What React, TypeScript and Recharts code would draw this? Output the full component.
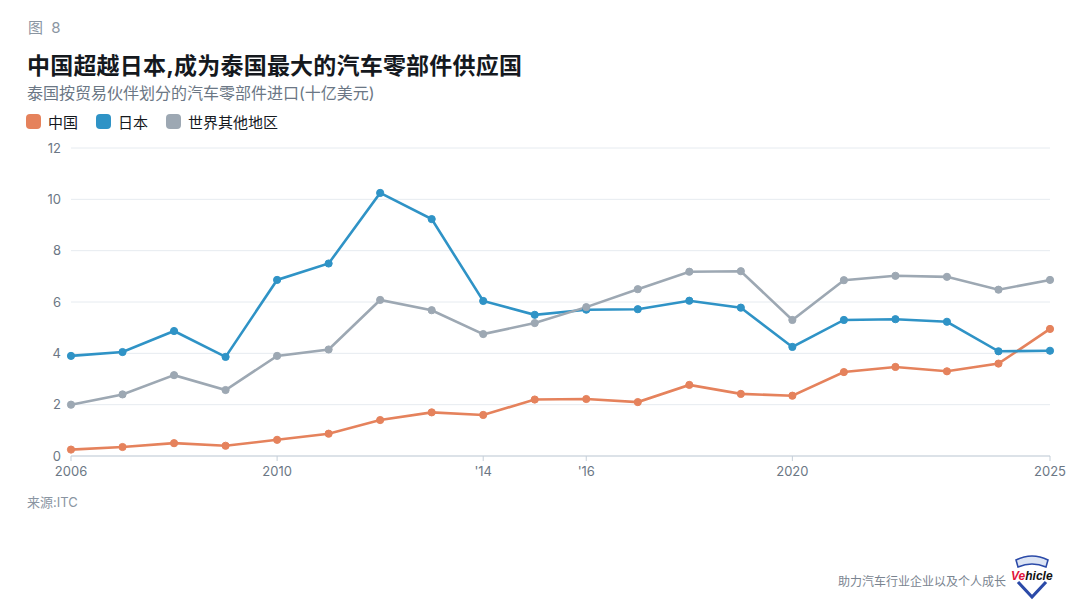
import * as React from "react";
import { CartesianGrid, Line, LineChart, XAxis, YAxis } from "recharts";

const years = [
  2006, 2007, 2008, 2009, 2010, 2011, 2012, 2013, 2014, 2015,
  2016, 2017, 2018, 2019, 2020, 2021, 2022, 2023, 2024, 2025,
];
const china = [
  0.25, 0.35, 0.5, 0.4, 0.63, 0.87, 1.4, 1.7, 1.6, 2.2,
  2.22, 2.1, 2.77, 2.42, 2.35, 3.27, 3.47, 3.3, 3.6, 4.95,
];
const japan = [
  3.9, 4.05, 4.87, 3.86, 6.86, 7.5, 10.25, 9.23, 6.04, 5.5,
  5.7, 5.72, 6.05, 5.78, 4.25, 5.3, 5.33, 5.23, 4.08, 4.1,
];
const restOfWorld = [
  2.0, 2.4, 3.15, 2.57, 3.9, 4.15, 6.08, 5.68, 4.75, 5.18,
  5.8, 6.5, 7.18, 7.2, 5.3, 6.85, 7.02, 6.98, 6.48, 6.86,
];
const xTicks = [2006, 2010, 2014, 2016, 2020, 2025];
const yTicks = [0, 2, 4, 6, 8, 10, 12];

const SERIES = [
  { key: "china", name: "中国", stroke: "#E5825C" },
  { key: "japan", name: "日本", stroke: "#2F93C6" },
  { key: "row", name: "世界其他地区", stroke: "#9DA8B3" },
];

const data = years.map((t, i) => ({
  t,
  china: china[i],
  japan: japan[i],
  row: restOfWorld[i],
}));

const FONT = "Inter, 'Noto Sans CJK SC', sans-serif";
const MUTED = "#6B7785";
const TICK_STYLE = { fontSize: 13, fill: "#6B7785", fontFamily: FONT } as const;

function formatYear(v: number): string {
  if (v === 2014 || v === 2016) return "'" + String(v).slice(2);
  return String(v);
}

function Logo() {
  return (
    <svg width="48" height="48" viewBox="0 0 48 48" style={{ position: "absolute", left: 1008, top: 552 }}>
      <path d="M8 8 Q24 0 40 8 L38 15 Q24 9 10 15 Z" fill="#DCE4F4" stroke="#2B4AA8" strokeWidth="1.6" />
      <path d="M10 30 L24 45 L38 30" fill="none" stroke="#2B4AA8" strokeWidth="3.2" />
      <text x="3" y="28" fontSize="12" fontStyle="italic" fontWeight="700" fontFamily="Liberation Sans, Arial, sans-serif">
        <tspan fill="#E0143C">Ve</tspan>
        <tspan fill="#111">hicle</tspan>
      </text>
    </svg>
  );
}

export default function App() {
  return (
    <div
      style={{
        position: "absolute",
        left: 0,
        top: 0,
        width: 1080,
        height: 614,
        background: "#fff",
        fontFamily: FONT,
        overflow: "hidden",
      }}
    >
      <div style={{ position: "absolute", left: 28, top: 16, fontSize: 15, color: "#8A95A2", wordSpacing: 4 }}>图 8</div>
      <div
        style={{
          position: "absolute",
          left: 27,
          top: 47,
          fontSize: 23,
          fontWeight: 700,
          color: "#15191E",
          letterSpacing: 0.2,
        }}
      >
        中国超越日本,成为泰国最大的汽车零部件供应国
      </div>
      <div style={{ position: "absolute", left: 27, top: 80, fontSize: 16, color: MUTED }}>
        泰国按贸易伙伴划分的汽车零部件进口(十亿美元)
      </div>
      <div style={{ position: "absolute", left: 26, top: 111, display: "flex", alignItems: "center" }}>
        {SERIES.map((s) => (
          <div key={s.key} style={{ display: "flex", alignItems: "center", marginRight: 18 }}>
            <span
              style={{
                display: "inline-block",
                width: 15,
                height: 15,
                borderRadius: 4,
                background: s.stroke,
                marginRight: 7,
              }}
            />
            <span style={{ fontSize: 15, color: "#15191E" }}>{s.name}</span>
          </div>
        ))}
      </div>

      <div style={{ position: "absolute", left: 0, top: 140 }}>
        <LineChart width={1080} height={350} data={data} margin={{ top: 8, right: 30, bottom: 4, left: 31 }}>
          <CartesianGrid stroke="#E6EBF0" vertical={false} />
          <XAxis
            dataKey="t"
            type="number"
            domain={[2006, 2025]}
            ticks={xTicks}
            tickFormatter={(v) => formatYear(Number(v))}
            tick={TICK_STYLE}
            stroke="#C5CFD9"
            tickSize={5}
            tickMargin={6}
            height={30}
            interval={0}
          />
          <YAxis
            domain={[0, 12]}
            ticks={yTicks}
            tick={TICK_STYLE}
            axisLine={false}
            tickLine={false}
            tickSize={0}
            tickMargin={10}
            width={40}
          />
          {SERIES.map((s) => (
            <Line
              key={s.key}
              type="linear"
              dataKey={s.key}
              name={s.name}
              stroke={s.stroke}
              strokeWidth={2.6}
              dot={{ r: 3.6, fill: s.stroke, stroke: s.stroke, strokeWidth: 1 }}
              isAnimationActive={false}
            />
          ))}
        </LineChart>
      </div>

      <div style={{ position: "absolute", left: 27, top: 492, fontSize: 13, color: "#8A95A2" }}>来源:ITC</div>
      <div style={{ position: "absolute", left: 838, top: 572, fontSize: 12, color: "#7A8490" }}>
        助力汽车行业企业以及个人成长
      </div>
      <Logo />
    </div>
  );
}
